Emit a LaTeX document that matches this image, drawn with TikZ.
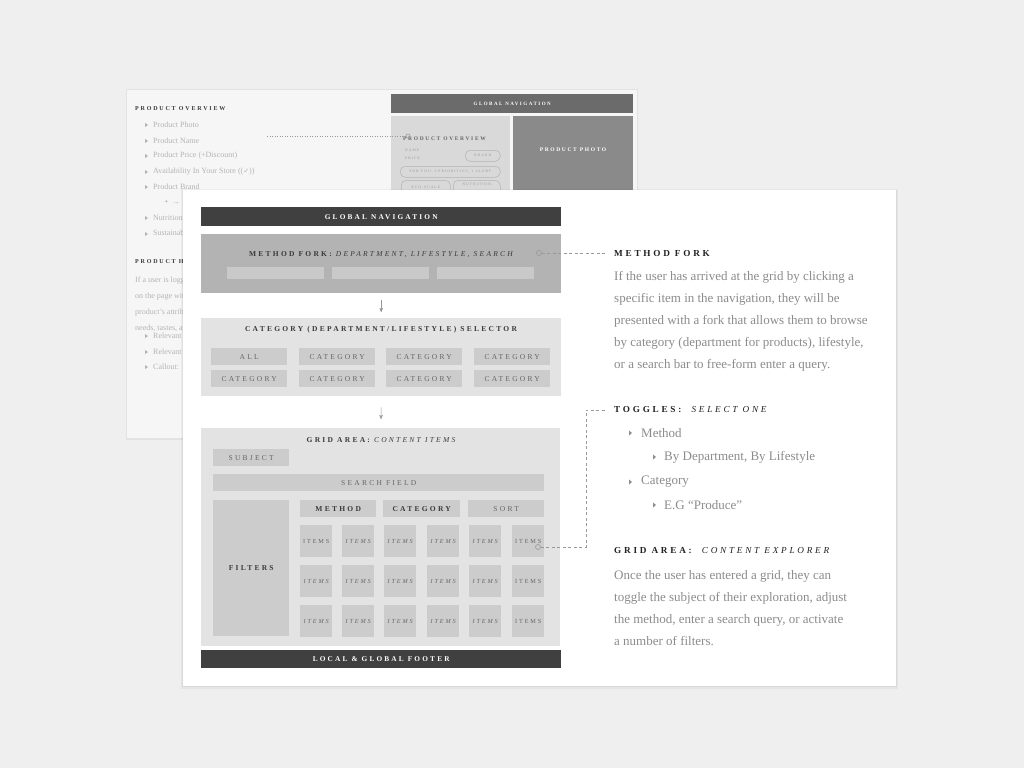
\documentclass[tikz,border=0pt]{standalone}
\usepackage{fontspec}
\setmainfont{Liberation Serif}
\newfontfamily\capsfont[LetterSpace=30]{Liberation Serif}
\newfontfamily\symfont{DejaVu Sans}
\usetikzlibrary{arrows,positioning}

\definecolor{bgcol}{HTML}{EFEFEF}
\definecolor{backcard}{HTML}{F6F6F6}
\definecolor{navdark}{HTML}{404040}
\definecolor{forkgray}{HTML}{B3B3B3}
\definecolor{forkbar}{HTML}{C9C9C9}
\definecolor{panelgray}{HTML}{E3E3E3}
\definecolor{btngray}{HTML}{CCCCCC}
\definecolor{btntext}{HTML}{666666}
\definecolor{titletext}{HTML}{3A3A3A}
\definecolor{headcol}{HTML}{222222}
\definecolor{bodycol}{HTML}{8C8C8C}
\definecolor{backtext}{HTML}{B4B4B4}
\definecolor{dotcol}{HTML}{999999}
\definecolor{backnav}{HTML}{6B6B6B}
\definecolor{backphoto}{HTML}{8A8A8A}
\definecolor{backpanel}{HTML}{D9D9D9}

\newcommand\wfcaps[1]{\capsfont\fontsize{#1}{#1}\selectfont}

\begin{document}
\begin{tikzpicture}[x=1pt,y=-1pt,font=\normalsize]
\tikzset{
    %Define standard arrow tip
    >=stealth',
    %Define style for wireframe blocks
    block/.style={inner sep=0, anchor=north west},
    darkbar/.style={block, fill=navdark, text=white,
           font=\wfcaps{7.3}\bfseries},
    btn/.style={block, fill=btngray, text=btntext,
           font=\wfcaps{7.5}},
    itembox/.style={block, fill=btngray, text=btntext,
           minimum width=32, minimum height=32,
           font=\wfcaps{6.2}},
    boxtitle/.style={inner sep=0, text=titletext,
           font=\wfcaps{7.5}\bfseries},
    pill/.style={block, rounded corners=5, draw=backtext, text=dotcol,
           line width=0.5, font=\wfcaps{3.6}},
    % Define annotation styles
    hook/.style={circle, draw=dotcol, line width=0.6,
           minimum size=5, inner sep=0},
    dashline/.style={draw=dotcol, line width=0.8,
           dash pattern=on 3pt off 2.5pt},
    heading/.style={anchor=west, inner sep=0, text=headcol,
           font=\wfcaps{9.2}\bfseries},
    body/.style={anchor=base west, inner sep=0, align=left, text=bodycol,
           font=\fontsize{13}{22}\selectfont},
    backitem/.style={anchor=west, inner sep=0, text=backtext,
           font=\fontsize{8}{16}\selectfont},
    % Define arrow style
    pil/.style={
           ->,
           draw=dotcol,
           line width=0.5,
           shorten <=7pt,
           shorten >=6pt,}
}
    \path[use as bounding box,fill=bgcol] (0,0) rectangle (1024,768);

 %back card
    \fill[black,opacity=0.05] (126,89) rectangle (638,440);
    \fill[backcard] (127,90) rectangle (637,438);
    \node[anchor=west,inner sep=0,text=titletext,font=\wfcaps{6}\bfseries] (bhead) at (135,109) {PRODUCT OVERVIEW};
    \node[backitem] (bphoto) at (153,125) {Product Photo};
    \node[backitem] (bname) at (153,141) {Product Name};
    \node[backitem] (bprice) at (153,156) {Product Price (+Discount)};
    \node[backitem] (bstore) at (153,172) {Availability In Your Store (({\symfont\fontsize{7}{7}\selectfont ✓}))};
    \node[backitem] (bbrand) at (153,187) {Product Brand};
    \node[backitem] (bsub) at (165,203) {•\ \ →};
    \node[backitem] (bnutri) at (153,218) {Nutrition};
    \node[backitem] (bsust) at (153,234) {Sustainability};
    \node[anchor=west,inner sep=0,text=titletext,font=\wfcaps{6}\bfseries] (bhead2) at (135,262) {PRODUCT H};
    \node[backitem,anchor=north west,align=left] (bpara) at (135,277) {If a user is logged\\on the page with\\product's attributes\\needs, tastes, and};
    \node[backitem] (brel1) at (153,336) {Relevant};
    \node[backitem] (brel2) at (153,352) {Relevant};
    \node[backitem] (bcall) at (153,367) {Callout:};
    \foreach \by in {125,141,156,172,187,218,234,336,352,367}
        \fill[backtext] (145,\by-2) -- (145,\by+2) -- (148,\by) -- cycle;

    \node[block,fill=backnav,minimum width=242,minimum height=19,text=white,font=\wfcaps{5}\bfseries] (bnav) at (391,94) {GLOBAL NAVIGATION};
    \node[block,fill=backpanel,minimum width=119,minimum height=120] (bpanel) at (391,116) {};
    \node[block,fill=backphoto,minimum width=120,minimum height=120] (bpic) at (513,116) {};
    \node[inner sep=0,text=white,font=\wfcaps{5.5}\bfseries] (bpictxt) at (573,150) {PRODUCT PHOTO};
    \node[anchor=west,inner sep=0,text=btntext,font=\wfcaps{5.5}\bfseries] (bover) at (403,139) {PRODUCT OVERVIEW};
    \node[hook,minimum size=4] (bdot) at (408,136) {};
    \coordinate (bline) at (267,136);
    \draw[dashline,dash pattern=on 1pt off 1.5pt,line width=0.6] (bline) -- (bdot);
    \node[anchor=west,inner sep=0,text=dotcol,font=\wfcaps{3.6}] (bnm) at (405,150) {NAME};
    \node[anchor=west,inner sep=0,text=dotcol,font=\wfcaps{3.6}] (bpr) at (405,158) {PRICE};
    \node[pill,minimum width=35,minimum height=11] (bbr) at (465,150) {BRAND};
    \node[pill,minimum width=100,minimum height=11] (bfy) at (400,166) {FOR YOU: 3 PRIORITIES, 1 ALERT};
    \node[pill,minimum width=49,minimum height=14] (beco) at (401,180) {ECO-SCALE};
    \node[pill,minimum width=47,minimum height=16,text depth=7] (bnut) at (453,180) {NUTRITION};

 %front card
    \fill[black,opacity=0.04] (181,189) rectangle (898,689);
    \fill[black,opacity=0.05] (182,190) rectangle (897,687);
    \fill[white] (183,190) rectangle (896,686);

 %nodes
    \node[darkbar,minimum width=360,minimum height=19] (gnav) at (201,207) {GLOBAL NAVIGATION};

    \node[block,fill=forkgray,minimum width=360,minimum height=59] (fork) at (201,234) {};
    \node[boxtitle] (forktitle) at (381,255) {METHOD FORK: {\mdseries\itshape DEPARTMENT, LIFESTYLE, SEARCH}};
    \node[block,fill=forkbar,minimum width=97,minimum height=12] (fbar1) at (227,267) {};
    \node[block,fill=forkbar,minimum width=97,minimum height=12] (fbar2) at (332,267) {};
    \node[block,fill=forkbar,minimum width=97,minimum height=12] (fbar3) at (437,267) {};

    \node[block,fill=panelgray,minimum width=360,minimum height=78] (catsel) at (201,318) {};
    \node[boxtitle] (cattitle) at (381,330) {CATEGORY (DEPARTMENT/LIFESTYLE) SELECTOR};
    \node[btn,minimum width=76,minimum height=17] (call) at (211,348) {ALL};
    \node[btn,minimum width=76,minimum height=17] (cat2) at (299,348) {CATEGORY};
    \node[btn,minimum width=76,minimum height=17] (cat3) at (386,348) {CATEGORY};
    \node[btn,minimum width=76,minimum height=17] (cat4) at (474,348) {CATEGORY};
    \node[btn,minimum width=76,minimum height=17] (cat5) at (211,370) {CATEGORY};
    \node[btn,minimum width=76,minimum height=17] (cat6) at (299,370) {CATEGORY};
    \node[btn,minimum width=76,minimum height=17] (cat7) at (386,370) {CATEGORY};
    \node[btn,minimum width=76,minimum height=17] (cat8) at (474,370) {CATEGORY};

    \node[block,fill=panelgray,minimum width=359,minimum height=218] (grid) at (201,428) {};
    \node[boxtitle] (gridtitle) at (381,440) {GRID AREA: {\mdseries\itshape CONTENT ITEMS}};
    \node[btn,minimum width=76,minimum height=17] (subject) at (213,449) {SUBJECT};
    \node[btn,minimum width=331,minimum height=17] (search) at (213,474) {SEARCH FIELD};
    \node[btn,minimum width=76,minimum height=136,font=\wfcaps{7.5}\bfseries,text=titletext] (filters) at (213,500) {FILTERS};
    \node[btn,minimum width=76,minimum height=17,font=\wfcaps{7.5}\bfseries,text=titletext] (method) at (300,500) {METHOD};
    \node[btn,minimum width=77,minimum height=17,font=\wfcaps{7.5}\bfseries,text=titletext] (category) at (383,500) {CATEGORY};
    \node[btn,minimum width=76,minimum height=17] (sort) at (468,500) {SORT};
    \foreach \ix/\cx in {1/300,2/342,3/384,4/427,5/469,6/512}
      \foreach \iy/\cy in {1/525,2/565,3/605}
        \node[itembox] (item\ix\iy) at (\cx,\cy)
          {\ifnum\ix=6 ITEMS\else\ifnum\ix\iy=11 ITEMS\else\itshape ITEMS\fi\fi};

    \node[darkbar,minimum width=360,minimum height=18] (footer) at (201,650) {LOCAL \& GLOBAL FOOTER};

 %annotations
    \node[hook] (forkdot) at (539,253) {};
    \node[hook] (itemdot) at (538,547) {};

    \node[heading] (mfhead) at (614,253) {METHOD FORK};
    \node[body] (mfbody) at (614,368) {If the user has arrived at the grid by clicking a\\specific item in the navigation, they will be\\presented with a fork that allows them to browse\\by category (department for products), lifestyle,\\or a search bar to free-form enter a query.};

    \node[heading] (toghead) at (614,410) {TOGGLES:\ \ {\mdseries\itshape SELECT ONE}};
    \node[body,anchor=west] (togm) at (641,433) {Method};
    \node[body,anchor=west] (togms) at (664,457) {By Department, By Lifestyle};
    \node[body,anchor=west] (togc) at (641,482) {Category};
    \node[body,anchor=west] (togcs) at (664,505) {E.G “Produce”};
    \foreach \tx/\ty in {629/433,653/457,629/482,653/505}
        \fill[bodycol] (\tx,\ty-2.5) -- (\tx,\ty+2.5) -- (\tx+3,\ty) -- cycle;

    \node[heading] (gahead) at (614,551) {GRID AREA:\ \ {\mdseries\itshape CONTENT EXPLORER}};
    \node[body] (gabody) at (614,645) {Once the user has entered a grid, they can\\toggle the subject of their exploration, adjust\\the method, enter a search query, or activate\\a number of filters.};

    \path (fork) edge[pil] (catsel);
    \path (catsel) edge[pil,shorten <=11pt,shorten >=9pt] (grid);
    \path (forkdot) edge[dashline,shorten >=8pt] (mfhead);
    \draw[dashline] (itemdot) -- ++(48,0) |- ([xshift=-9pt]toghead.west);

\end{tikzpicture}
\end{document}
